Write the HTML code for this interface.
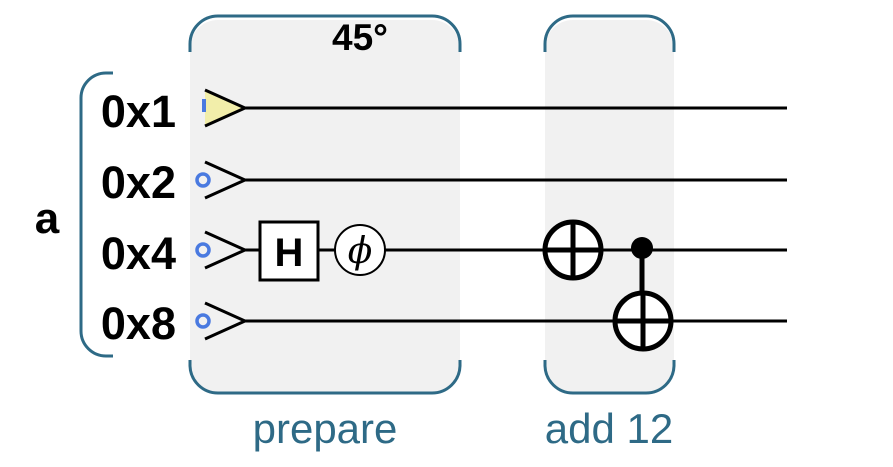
<!DOCTYPE html>
<html><head><style>body{margin:0;background:#fff}</style></head><body>
<svg width="893" height="462" viewBox="0 0 893 462" xmlns="http://www.w3.org/2000/svg" font-family="Liberation Sans, sans-serif">
<rect x="190" y="20" width="270" height="372" rx="28" fill="#f1f1f1"/>
<rect x="545" y="20" width="129" height="372" rx="28" fill="#f1f1f1"/>
<g fill="none" stroke="#2e6a86" stroke-width="3">
<path d="M190 52 V44 A28 28 0 0 1 218 16 H432 A28 28 0 0 1 460 44 V52"/>
<path d="M190 360 V366 A28 28 0 0 0 218 393 H432 A28 28 0 0 0 460 366 V360"/>
<path d="M545 52 V44 A28 28 0 0 1 573 16 H646 A28 28 0 0 1 674 44 V52"/>
<path d="M545 360 V366 A28 28 0 0 0 573 393 H646 A28 28 0 0 0 674 366 V360"/>
<path d="M113 73 H106 A25 25 0 0 0 81 98 V331 A25 25 0 0 0 106 356 H113"/>
</g>
<text x="325" y="443" font-size="42" fill="#2e6a86" text-anchor="middle">prepare</text>
<text x="609" y="443" font-size="42" fill="#2e6a86" text-anchor="middle">add 12</text>
<text x="360" y="50" font-size="37" font-weight="bold" text-anchor="middle">45°</text>
<text x="47" y="233" font-size="44" font-weight="bold" text-anchor="middle">a</text>
<g font-size="45" font-weight="bold" text-anchor="end">
<text x="176" y="127">0x1</text><text x="176" y="198">0x2</text><text x="176" y="269">0x4</text><text x="176" y="339">0x8</text>
</g>
<path d="M205 90 L245 108 L205 126 Z" fill="#f2eeaa"/>
<g stroke="#000" stroke-width="3" fill="none">
<path d="M205 90 L245 108 L205 126"/>
<path d="M205 162 L245 180 L205 198"/>
<path d="M205 232 L245 250 L205 268"/>
<path d="M205 303 L245 321 L205 339"/>
<line x1="245" y1="108" x2="787" y2="108"/>
<line x1="245" y1="180" x2="787" y2="180"/>
<line x1="245" y1="250" x2="787" y2="250"/>
<line x1="245" y1="321" x2="787" y2="321"/>
</g>
<rect x="202" y="99" width="4" height="13" fill="#4a7ae0"/>
<g fill="none" stroke="#4a7ae0" stroke-width="3.5">
<circle cx="203" cy="180" r="6"/><circle cx="203" cy="250" r="6"/><circle cx="203" cy="321" r="6"/>
</g>
<rect x="260" y="222" width="58" height="58" fill="#fff" stroke="#000" stroke-width="3"/>
<text x="289" y="266" font-size="40" font-weight="bold" text-anchor="middle">H</text>
<circle cx="360" cy="250" r="25" fill="#fff" stroke="#000" stroke-width="2"/>
<text x="360" y="263" font-size="36" font-style="italic" text-anchor="middle" font-family="DejaVu Serif, serif">ϕ</text>
<g stroke="#000" stroke-width="5" fill="none">
<circle cx="573" cy="250" r="28" fill="#fff"/>
<line x1="545" y1="250" x2="601" y2="250"/><line x1="573" y1="222" x2="573" y2="278"/>
<line x1="642" y1="248" x2="642" y2="293"/>
<circle cx="643" cy="321" r="28" fill="#fff"/>
<line x1="615" y1="321" x2="671" y2="321"/><line x1="643" y1="293" x2="643" y2="349"/>
</g>
<circle cx="642" cy="248" r="11" fill="#000"/>
</svg>
</body></html>
